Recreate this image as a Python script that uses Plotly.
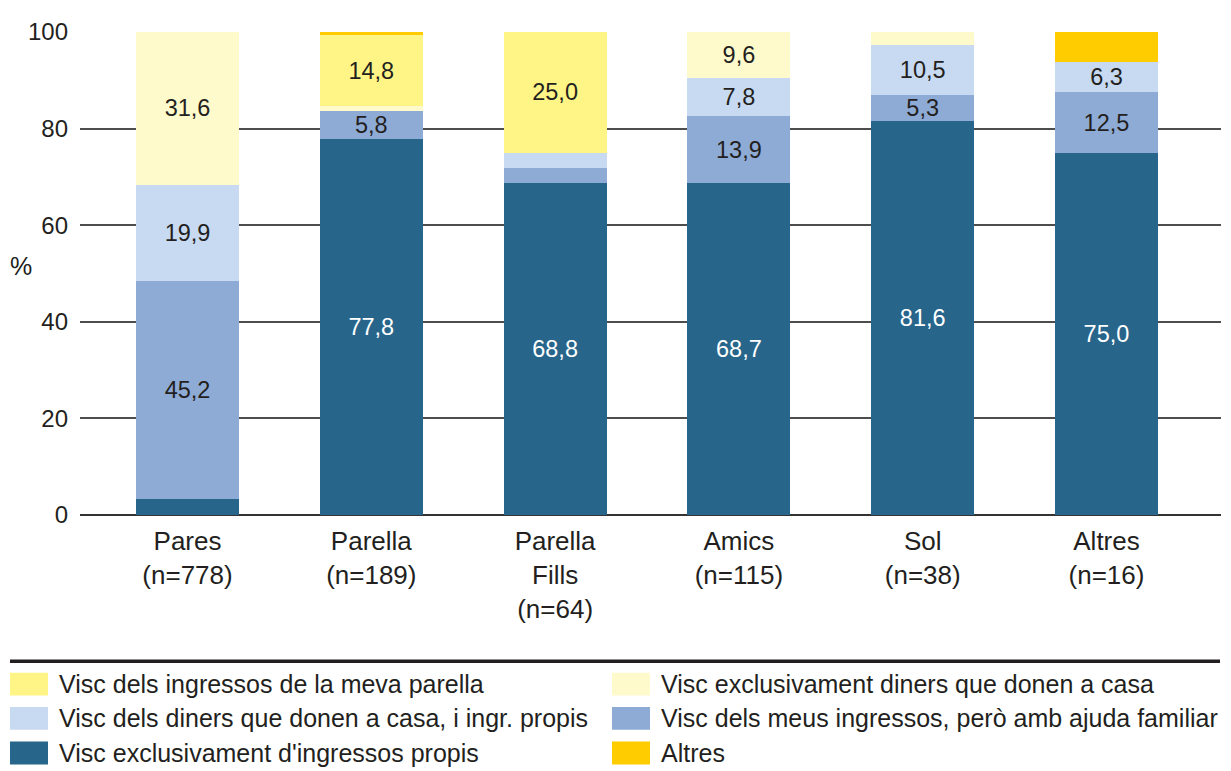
import plotly.graph_objects as go

# Categories (tick labels) and the share of each income source, in %
categories = ["Pares<br>(n=778)", "Parella<br>(n=189)", "Parella<br>Fills<br>(n=64)",
              "Amics<br>(n=115)", "Sol<br>(n=38)", "Altres<br>(n=16)"]

propis = [3.3, 77.8, 68.8, 68.7, 81.6, 75.0]
ajuda_familiar = [45.2, 5.8, 3.1, 13.9, 5.3, 12.5]
casa_i_propis = [19.9, 0.0, 3.1, 7.8, 10.5, 6.3]
casa = [31.6, 1.0, 0.0, 9.6, 2.6, 0.0]
parella = [0.0, 14.8, 25.0, 0.0, 0.0, 0.0]
altres = [0.0, 0.6, 0.0, 0.0, 0.0, 6.2]

series_names = [
    "Visc exclusivament d'ingressos propis",
    "Visc dels meus ingressos, però amb ajuda familiar",
    "Visc dels diners que donen a casa, i ingr. propis",
    "Visc exclusivament diners que donen a casa",
    "Visc dels ingressos de la meva parella",
    "Altres",
]
series_values = [propis, ajuda_familiar, casa_i_propis, casa, parella, altres]

# styling per series (bottom to top)
colors = ["#27658A", "#8EABD6", "#C7DAF1", "#FFFACC", "#FFF586", "#FFCC00"]
text_colors = ["white", "#231F20", "#231F20", "#231F20", "#231F20", "#231F20"]
legend_slots = [(0, 2), (1, 1), (0, 1), (1, 0), (0, 0), (1, 2)]  # (column, row)

FONT = "Liberation Sans, Arial, sans-serif"
INK = "#231F20"

# the page body has an 8px margin, so the figure is sized to fit the window
OFF = 8
W, H = 1231 - OFF, 771 - OFF
# plot area in window pixels: x 80..1221, y 28.5..515
L, R, T, B = 80 - OFF, W - (1221 - OFF), 28 - OFF, H - (515 - OFF)
PW, PH = W - L - R, H - T - B


def px_x(x):
    # window pixel -> paper coordinate
    return (x - OFF - L) / PW


def px_y(y):
    return (H - B - (y - OFF)) / PH


def fmt(v):
    return f"{v:.1f}".replace(".", ",")


fig = go.Figure()
for name, vals, col, tcol in zip(series_names, series_values, colors, text_colors):
    labels = [fmt(v) if v >= 5 and name != "Altres" else "" for v in vals]
    fig.add_trace(go.Bar(
        name=name,
        x=categories,
        y=vals,
        width=0.56,
        marker=dict(color=col, line=dict(width=0)),
        text=labels,
        textposition="inside",
        insidetextanchor="middle",
        textangle=0,
        textfont=dict(family=FONT, size=23.5, color=tcol),
        showlegend=False,
        hoverinfo="skip",
    ))

# legend built by hand: two columns, three rows, under a thick rule
shapes = [dict(type="line", xref="paper", yref="paper",
               x0=px_x(10), x1=px_x(1220), y0=px_y(662.5), y1=px_y(662.5),
               line=dict(color=INK, width=3.5))]
annotations = []
col_x = [10, 612]
row_y = [685.5, 720, 755]
for name, col, (c, r) in zip(series_names, colors, legend_slots):
    x0 = col_x[c]
    yc = row_y[r]
    shapes.append(dict(type="rect", xref="paper", yref="paper",
                       x0=px_x(x0), x1=px_x(x0 + 38),
                       y0=px_y(yc + 11.5), y1=px_y(yc - 11.5),
                       fillcolor=col, line=dict(width=0)))
    annotations.append(dict(text=name, xref="paper", yref="paper",
                            x=px_x(x0 + 47), y=px_y(yc), xanchor="left", yanchor="middle",
                            showarrow=False,
                            font=dict(family=FONT, size=25, color=INK)))

annotations.append(dict(text="%", xref="paper", yref="paper",
                        x=px_x(21), y=px_y(264), xanchor="center", yanchor="middle",
                        showarrow=False,
                        font=dict(family=FONT, size=25, color=INK)))

fig.update_layout(
    width=W,
    height=H,
    margin=dict(l=L, r=R, t=T, b=B),
    barmode="stack",
    plot_bgcolor="white",
    paper_bgcolor="white",
    uniformtext=dict(minsize=23.5, mode="show"),
    shapes=shapes,
    annotations=annotations,
    xaxis=dict(
        range=[-0.585, 5.623],
        showgrid=False,
        showline=False,
        ticks="",
        ticklabelstandoff=8,
        tickfont=dict(family=FONT, size=26, color=INK),
    ),
    yaxis=dict(
        range=[0, 100],
        tickvals=[0, 20, 40, 60, 80, 100],
        showgrid=True,
        gridcolor="#4D4D4D",
        gridwidth=1.5,
        zeroline=True,
        zerolinecolor="#333333",
        zerolinewidth=2,
        ticks="",
        ticklabelstandoff=11,
        tickfont=dict(family=FONT, size=24, color=INK),
    ),
)

fig.write_html("out.html")
